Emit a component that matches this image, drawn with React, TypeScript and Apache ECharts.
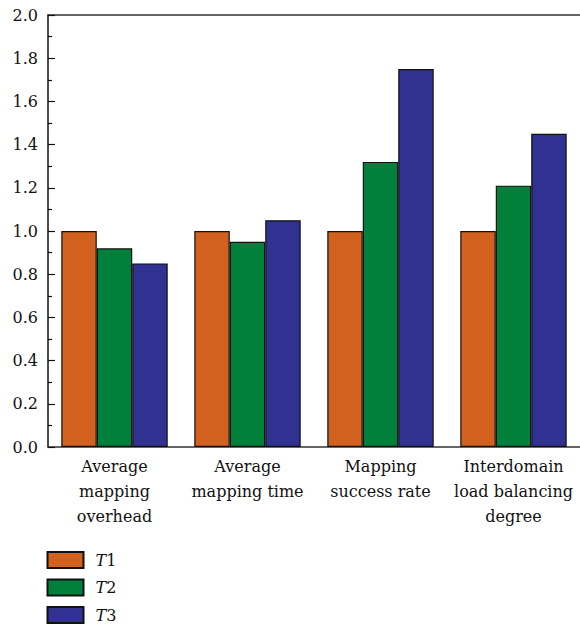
import React, { useEffect, useRef } from "react";
import * as echarts from "echarts";

const categories = [
  "Average\nmapping\noverhead",
  "Average\nmapping time",
  "Mapping\nsuccess rate",
  "Interdomain\nload balancing\ndegree",
];
const seriesNames = ["T1", "T2", "T3"];
const t1 = [1.0, 1.0, 1.0, 1.0];
const t2 = [0.92, 0.95, 1.32, 1.21];
const t3 = [0.85, 1.05, 1.75, 1.45];
const colors = ["#D2601F", "#00803A", "#313192"];

const FONT = "'DejaVu Serif', 'Liberation Serif', serif";
const FS = 16;

export default function App() {
  const ref = useRef<HTMLDivElement>(null);
  useEffect(() => {
    if (!ref.current) return;
    const chart = echarts.init(ref.current, null, { renderer: "svg" });
    const data = [t1, t2, t3];
    chart.setOption({
      animation: false,
      textStyle: { fontFamily: FONT },
      grid: { left: 48, top: 15, width: 535, height: 432 },
      legend: {
        orient: "vertical",
        left: 46.5,
        top: 550,
        padding: 0,
        icon: "rect",
        itemWidth: 36,
        itemHeight: 16,
        itemGap: 7.5,
        data: seriesNames,
        formatter: (n: string) => `{i|${n.slice(0, 1)}}{n|${n.slice(1)}}`,
        textStyle: {
          fontFamily: FONT,
          fontSize: FS,
          lineHeight: 20,
          color: "#111",
          padding: [0, 0, 0, 7],
          rich: {
            i: { fontFamily: FONT, fontSize: FS, lineHeight: 20, fontStyle: "italic", color: "#111" },
            n: { fontFamily: FONT, fontSize: FS, lineHeight: 20, color: "#111" },
          },
        },
      },
      xAxis: [
        {
          type: "category",
          data: categories,
          axisLine: { lineStyle: { color: "#333", width: 1.5 } },
          axisTick: { show: false },
          axisLabel: {
            interval: 0,
            fontFamily: FONT,
            fontSize: FS,
            color: "#111",
            lineHeight: 25,
            margin: 7,
            align: "center",
          },
        },
        {
          type: "category",
          position: "top",
          data: categories,
          axisLine: { show: true, lineStyle: { color: "#333", width: 1.5 } },
          axisTick: { show: false },
          axisLabel: { show: false },
        },
      ],
      yAxis: {
        type: "value",
        min: 0,
        max: 2,
        interval: 0.2,
        axisLine: { show: true, lineStyle: { color: "#111", width: 1.5 } },
        axisTick: { show: true, inside: true, length: 7, lineStyle: { color: "#111", width: 1.2 } },
        minorTick: { show: true, splitNumber: 2, length: 4, lineStyle: { color: "#111", width: 1.2 } },
        splitLine: { show: false },
        axisLabel: {
          fontFamily: FONT,
          fontSize: FS,
          color: "#111",
          margin: 10,
          formatter: (v: number) => v.toFixed(1),
        },
      },
      series: seriesNames.map((name, i) => ({
        name,
        type: "bar",
        data: data[i],
        barGap: "0%",
        barCategoryGap: "20%",
        itemStyle: { color: colors[i], borderColor: "#111", borderWidth: 1.2 },
      })),
    });
    return () => chart.dispose();
  }, []);
  return (
    <div
      ref={ref}
      style={{ position: "absolute", left: 0, top: 0, width: 580, height: 625 }}
    />
  );
}
